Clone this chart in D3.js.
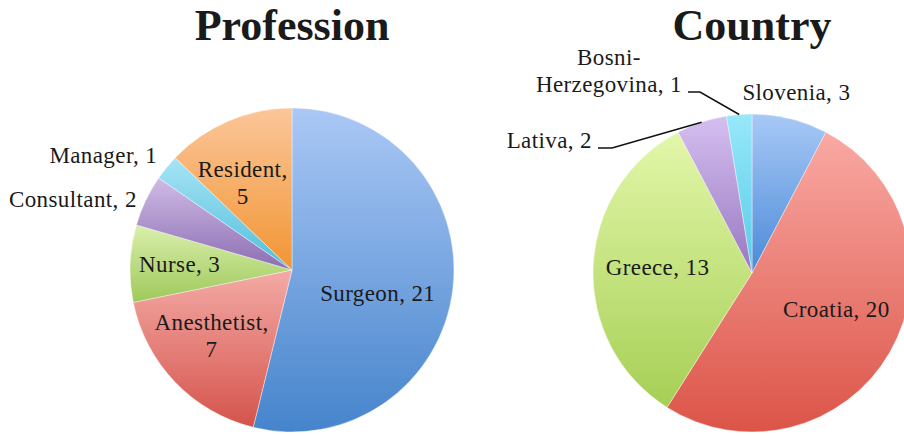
<!DOCTYPE html>
<html>
<head>
<meta charset="utf-8">
<script src="https://cdn.jsdelivr.net/npm/d3@7"></script>
<style>
  body { margin: 0; background: #fff; }
  text { font-family: "Liberation Serif", serif; fill: #1a1a1a; }
</style>
</head>
<body>
<div id="chart"></div>
<script>
// data
const profCats = ["Surgeon", "Anesthetist", "Nurse", "Consultant", "Manager", "Resident"];
const profValues = [21, 7, 3, 2, 1, 5];
const countryCats = ["Slovenia", "Croatia", "Greece", "Lativa", "Bosni-Herzegovina"];
const countryValues = [3, 20, 13, 2, 1];

// gradient colours, top -> bottom
const sliceColors = {
  Surgeon: ["#abc8f5", "#4584cc"],
  Anesthetist: ["#f4aaa6", "#d4544b"],
  Nurse: ["#daefac", "#9ec95a"],
  Consultant: ["#cfbbe5", "#8c6db3"],
  Manager: ["#a7e4f6", "#4fbedb"],
  Resident: ["#fbc699", "#f29533"],
  Slovenia: ["#a8c9f7", "#4a8ad6"],
  Croatia: ["#f9a9a3", "#dc5448"],
  Greece: ["#e3f7aa", "#a6cf55"],
  Lativa: ["#d5bff0", "#9877c1"],
  "Bosni-Herzegovina": ["#97e8f9", "#58cbe7"]
};

// label placement (k = fraction of radius)
const profLayout = {
  Surgeon: { k: 0.62, dx: -14, dy: 11 },
  Anesthetist: { k: 0.62, dx: -8, dy: -4, wrap: ", " },
  Nurse: { k: 0.62, dx: -12, dy: -2 },
  Consultant: { k: 1.074, dx: 2, dy: 4, anchor: "end" },
  Manager: { k: 1.074, dx: 0, dy: -5, anchor: "end" },
  Resident: { k: 0.62, dx: -10, dy: 5, wrap: ", " }
};
const countryLayout = {
  Slovenia: { k: 1.165, dx: 0, dy: -1 },
  Croatia: { k: 0.62, dx: -1, dy: -13 },
  Greece: { k: 0.62, dx: 4, dy: -2 },
  Lativa: { leader: [-140, -125], tail: 14 },
  "Bosni-Herzegovina": { leader: [-52, -181], tail: 12, wrap: "-" }
};

const width = 904, height = 436;
const fontSize = 23, lineH = 27;

const svg = d3.select("#chart").append("svg")
  .attr("width", width)
  .attr("height", height);

const defs = svg.append("defs");
Object.entries(sliceColors).forEach(([name, c], i) => {
  const g = defs.append("linearGradient")
    .attr("id", "grad" + i)
    .attr("x1", 0).attr("y1", 0).attr("x2", 0).attr("y2", 1);
  g.append("stop").attr("offset", "0%").attr("stop-color", c[0]);
  g.append("stop").attr("offset", "100%").attr("stop-color", c[1]);
  sliceColors[name].id = "grad" + i;
});

function splitLabel(cat, v, wrap) {
  const full = cat + ", " + v;
  if (!wrap) return [full];
  const i = full.indexOf(wrap) + wrap.length;
  return [full.slice(0, i).trim(), full.slice(i).trim()];
}

function drawPie(cats, values, layout, cx, cy, r, title) {
  const g = svg.append("g").attr("transform", `translate(${cx},${cy})`);
  const pie = d3.pie().sort(null).value(d => d.v);
  const arcs = pie(cats.map((c, i) => ({ c: c, v: values[i] })));
  const arc = d3.arc().innerRadius(0).outerRadius(r);

  g.selectAll("path.slice")
    .data(arcs)
    .enter()
    .append("path")
    .attr("class", "slice")
    .attr("d", arc)
    .attr("fill", d => `url(#${sliceColors[d.data.c].id})`)
    .attr("stroke", "#fff")
    .attr("stroke-width", 0.4);

  arcs.forEach(d => {
    const L = layout[d.data.c];
    const lines = splitLabel(d.data.c, d.data.v, L.wrap);
    const mid = (d.startAngle + d.endAngle) / 2;
    const sx = Math.sin(mid), sy = -Math.cos(mid);

    if (L.leader) {
      const p0 = [sx * r, sy * r];
      const p1 = L.leader;
      const p2 = [p1[0] - L.tail, p1[1]];
      g.append("path")
        .attr("d", d3.line()([p0, p1, p2]))
        .attr("fill", "none")
        .attr("stroke", "#111")
        .attr("stroke-width", 1.5);
      const t = g.append("text")
        .attr("font-size", fontSize)
        .attr("letter-spacing", 0.4)
        .attr("text-anchor", "middle");
      lines.forEach((s, j) => {
        t.append("tspan").attr("x", 0)
          .attr("y", p2[1] - (lines.length - 1 - j) * lineH)
          .text(s);
      });
      const w = t.node().getBBox().width;
      t.attr("transform", `translate(${p2[0] - 6 - w / 2},0)`);
      return;
    }

    const x = sx * r * L.k + L.dx;
    const y = sy * r * L.k + L.dy;
    const t = g.append("text")
      .attr("font-size", fontSize)
      .attr("letter-spacing", 0.4)
      .attr("text-anchor", L.anchor || "middle");
    lines.forEach((s, j) => {
      t.append("tspan")
        .attr("x", x)
        .attr("y", y - (lines.length - 1) * lineH / 2 + j * lineH + fontSize * 0.35)
        .text(s);
    });
  });

  svg.append("text")
    .attr("x", cx)
    .attr("y", 40)
    .attr("text-anchor", "middle")
    .attr("font-size", 44)
    .attr("font-weight", "bold")
    .text(title);
}

drawPie(profCats, profValues, profLayout, 292, 270, 162, "Profession");
drawPie(countryCats, countryValues, countryLayout, 752, 273, 159, "Country");
</script>
</body>
</html>
